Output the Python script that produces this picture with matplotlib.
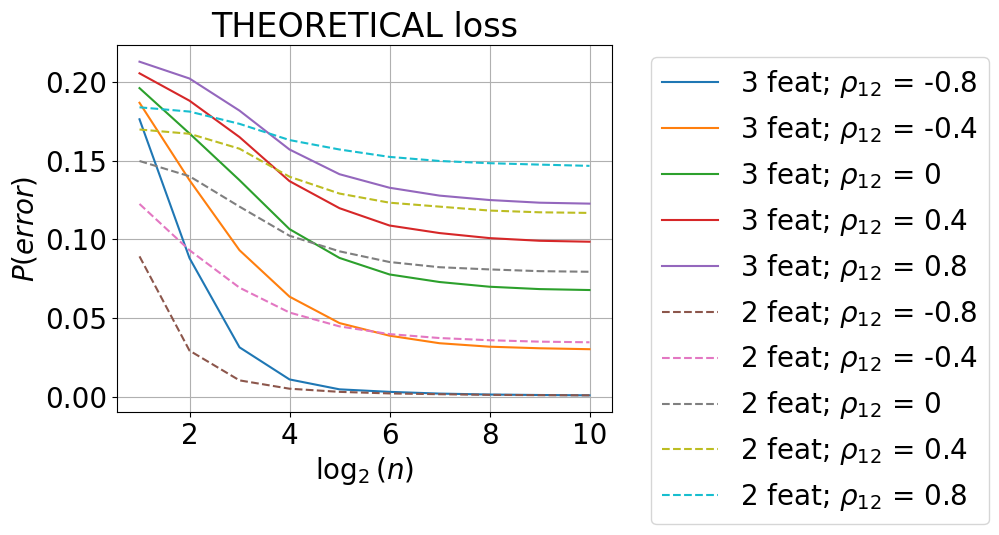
import numpy as np
import matplotlib
matplotlib.use('Agg')
import matplotlib.pyplot as plt

log2_n = [1, 2, 3, 4, 5, 6, 7, 8, 9, 10]

# 3 features
feat3_m08 = [0.1762, 0.0880, 0.0313, 0.0109, 0.0046, 0.0030, 0.0019, 0.0013, 0.0010, 0.0008]
feat3_m04 = [0.1867, 0.1375, 0.0930, 0.0635, 0.0467, 0.0387, 0.0339, 0.0317, 0.0307, 0.0301]
feat3_0 = [0.1960, 0.1672, 0.1375, 0.1064, 0.0881, 0.0776, 0.0728, 0.0698, 0.0683, 0.0677]
feat3_p04 = [0.2054, 0.1880, 0.1649, 0.1369, 0.1197, 0.1087, 0.1039, 0.1007, 0.0990, 0.0984]
feat3_p08 = [0.2128, 0.2021, 0.1817, 0.1570, 0.1413, 0.1327, 0.1277, 0.1249, 0.1232, 0.1226]

# 2 features
feat2_m08 = [0.0891, 0.0292, 0.0103, 0.0050, 0.0030, 0.0020, 0.0015, 0.0011, 0.0009, 0.0008]
feat2_m04 = [0.1224, 0.0930, 0.0692, 0.0534, 0.0446, 0.0397, 0.0372, 0.0358, 0.0349, 0.0345]
feat2_0 = [0.1497, 0.1400, 0.1207, 0.1022, 0.0923, 0.0855, 0.0822, 0.0808, 0.0797, 0.0793]
feat2_p04 = [0.1697, 0.1670, 0.1575, 0.1397, 0.1290, 0.1232, 0.1207, 0.1182, 0.1171, 0.1167]
feat2_p08 = [0.1838, 0.1811, 0.1733, 0.1630, 0.1570, 0.1523, 0.1497, 0.1483, 0.1474, 0.1466]

rhos = ['-0.8', '-0.4', '0', '0.4', '0.8']
series3 = [feat3_m08, feat3_m04, feat3_0, feat3_p04, feat3_p08]
series2 = [feat2_m08, feat2_m04, feat2_0, feat2_p04, feat2_p08]

fig = plt.figure(figsize=(9.99, 5.35), dpi=100)
ax = fig.add_axes([117/999, 1-412/535, 495/999, 367/535])

for rho, y in zip(rhos, series3):
    ax.plot(log2_n, y, '-', label=r'3 feat; $\rho_{12}$ = ' + rho)
for rho, y in zip(rhos, series2):
    ax.plot(log2_n, y, '--', label=r'2 feat; $\rho_{12}$ = ' + rho)

ax.grid(True)
ax.set_title('THEORETICAL loss', fontsize=24)
ax.set_xlabel(r'$\log_2(n)$', fontsize=20)
ax.set_ylabel(r'$P(error)$', fontsize=20)
ax.tick_params(labelsize=20)
ax.set_xticks([2, 4, 6, 8, 10])

fig.legend(loc='upper left', bbox_to_anchor=(651/999, 1-57/535), fontsize=20, borderaxespad=0)

fig.savefig('out.png', dpi=100)
